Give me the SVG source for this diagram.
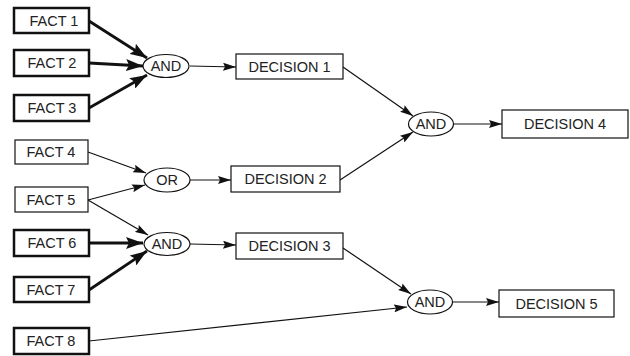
<svg xmlns="http://www.w3.org/2000/svg" width="630" height="356" viewBox="0 0 630 356">
<defs>
<marker id="ah" markerUnits="userSpaceOnUse" markerWidth="18" markerHeight="12" refX="17" refY="6" orient="auto"><path d="M0,0 L17,6 L0,12 L3,6 Z" fill="#111"/></marker>
<marker id="at" markerUnits="userSpaceOnUse" markerWidth="14" markerHeight="8" refX="13" refY="4" orient="auto"><path d="M0,0 L13,4 L0,8 L2,4 Z" fill="#111"/></marker>
</defs>
<style>
.bx{fill:#fff;stroke:#111}
.thick{stroke-width:2.5}
.thin{stroke-width:1.2}
.t{font-family:"Liberation Sans",Arial,sans-serif;font-size:14.5px;fill:#222;text-anchor:middle;dominant-baseline:central}
.e{fill:#fff;stroke:#111;stroke-width:1.2}
.lt{stroke:#111;stroke-width:2.8;fill:none}
.ln{stroke:#111;stroke-width:1.2;fill:none}
</style>
<rect width="630" height="356" fill="#fff"/>
<g id="connectors">
<line class="lt" x1="89" y1="21" x2="147" y2="58" marker-end="url(#ah)"/>
<line class="lt" x1="89" y1="63" x2="143" y2="66" marker-end="url(#ah)"/>
<line class="lt" x1="89" y1="108" x2="147" y2="75" marker-end="url(#ah)"/>
<line class="ln" x1="88" y1="152" x2="146" y2="173" marker-end="url(#at)"/>
<line class="ln" x1="88" y1="200" x2="145" y2="185" marker-end="url(#at)"/>
<line class="ln" x1="88" y1="200" x2="148" y2="235" marker-end="url(#at)"/>
<line class="lt" x1="89" y1="243" x2="143" y2="243" marker-end="url(#ah)"/>
<line class="lt" x1="89" y1="290" x2="147" y2="251" marker-end="url(#ah)"/>
<line class="ln" x1="89" y1="341" x2="407" y2="307" marker-end="url(#at)"/>
<line class="ln" x1="190" y1="66" x2="236" y2="67" marker-end="url(#at)"/>
<line class="ln" x1="190" y1="180" x2="231" y2="180" marker-end="url(#at)"/>
<line class="ln" x1="190" y1="244" x2="236" y2="245" marker-end="url(#at)"/>
<line class="ln" x1="343" y1="67" x2="413" y2="116" marker-end="url(#at)"/>
<line class="ln" x1="340" y1="180" x2="413" y2="132" marker-end="url(#at)"/>
<line class="ln" x1="343" y1="248" x2="411" y2="294" marker-end="url(#at)"/>
<line class="ln" x1="453" y1="124" x2="502" y2="124" marker-end="url(#at)"/>
<line class="ln" x1="452" y1="302" x2="499" y2="302" marker-end="url(#at)"/>
</g>
<g id="fact1"><rect class="bx thick" x="14" y="8" width="75" height="25"/><text class="t" x="54" y="20.5">FACT 1</text></g>
<g id="fact2"><rect class="bx thick" x="14" y="50" width="75" height="26"/><text class="t" x="52" y="63">FACT 2</text></g>
<g id="fact3"><rect class="bx thick" x="14" y="95" width="75" height="26"/><text class="t" x="52" y="108">FACT 3</text></g>
<g id="fact4"><rect class="bx thin" x="15" y="140" width="73" height="24"/><text class="t" x="51" y="152">FACT 4</text></g>
<g id="fact5"><rect class="bx thin" x="15" y="187" width="73" height="25"/><text class="t" x="51" y="199.5">FACT 5</text></g>
<g id="fact6"><rect class="bx thick" x="14" y="230" width="75" height="26"/><text class="t" x="52" y="243">FACT 6</text></g>
<g id="fact7"><rect class="bx thick" x="14" y="277" width="75" height="25"/><text class="t" x="51" y="289.5">FACT 7</text></g>
<g id="fact8"><rect class="bx thick" x="14" y="328" width="75" height="26"/><text class="t" x="51" y="341">FACT 8</text></g>
<g id="and1"><ellipse class="e" cx="166" cy="66" rx="23" ry="11.5"/><text class="t" x="166" y="66">AND</text></g>
<g id="or1"><ellipse class="e" cx="167" cy="180" rx="23" ry="12"/><text class="t" x="167" y="180">OR</text></g>
<g id="and2"><ellipse class="e" cx="167" cy="244" rx="23" ry="11.5"/><text class="t" x="167" y="244">AND</text></g>
<g id="and3"><ellipse class="e" cx="431" cy="124" rx="22.5" ry="12"/><text class="t" x="431" y="124">AND</text></g>
<g id="and4"><ellipse class="e" cx="430" cy="302" rx="22.5" ry="12"/><text class="t" x="430" y="302">AND</text></g>
<g id="decision1"><rect class="bx thin" x="236" y="54" width="107" height="25"/><text class="t" x="289.5" y="66.5">DECISION 1</text></g>
<g id="decision2"><rect class="bx thin" x="231" y="166" width="109" height="26"/><text class="t" x="285.5" y="179">DECISION 2</text></g>
<g id="decision3"><rect class="bx thin" x="236" y="233" width="107" height="26"/><text class="t" x="289.5" y="246">DECISION 3</text></g>
<g id="decision4"><rect class="bx thin" x="502" y="110" width="126" height="28"/><text class="t" x="565" y="124">DECISION 4</text></g>
<g id="decision5"><rect class="bx thin" x="499" y="290" width="115" height="27"/><text class="t" x="556.5" y="303.5">DECISION 5</text></g>
</svg>
